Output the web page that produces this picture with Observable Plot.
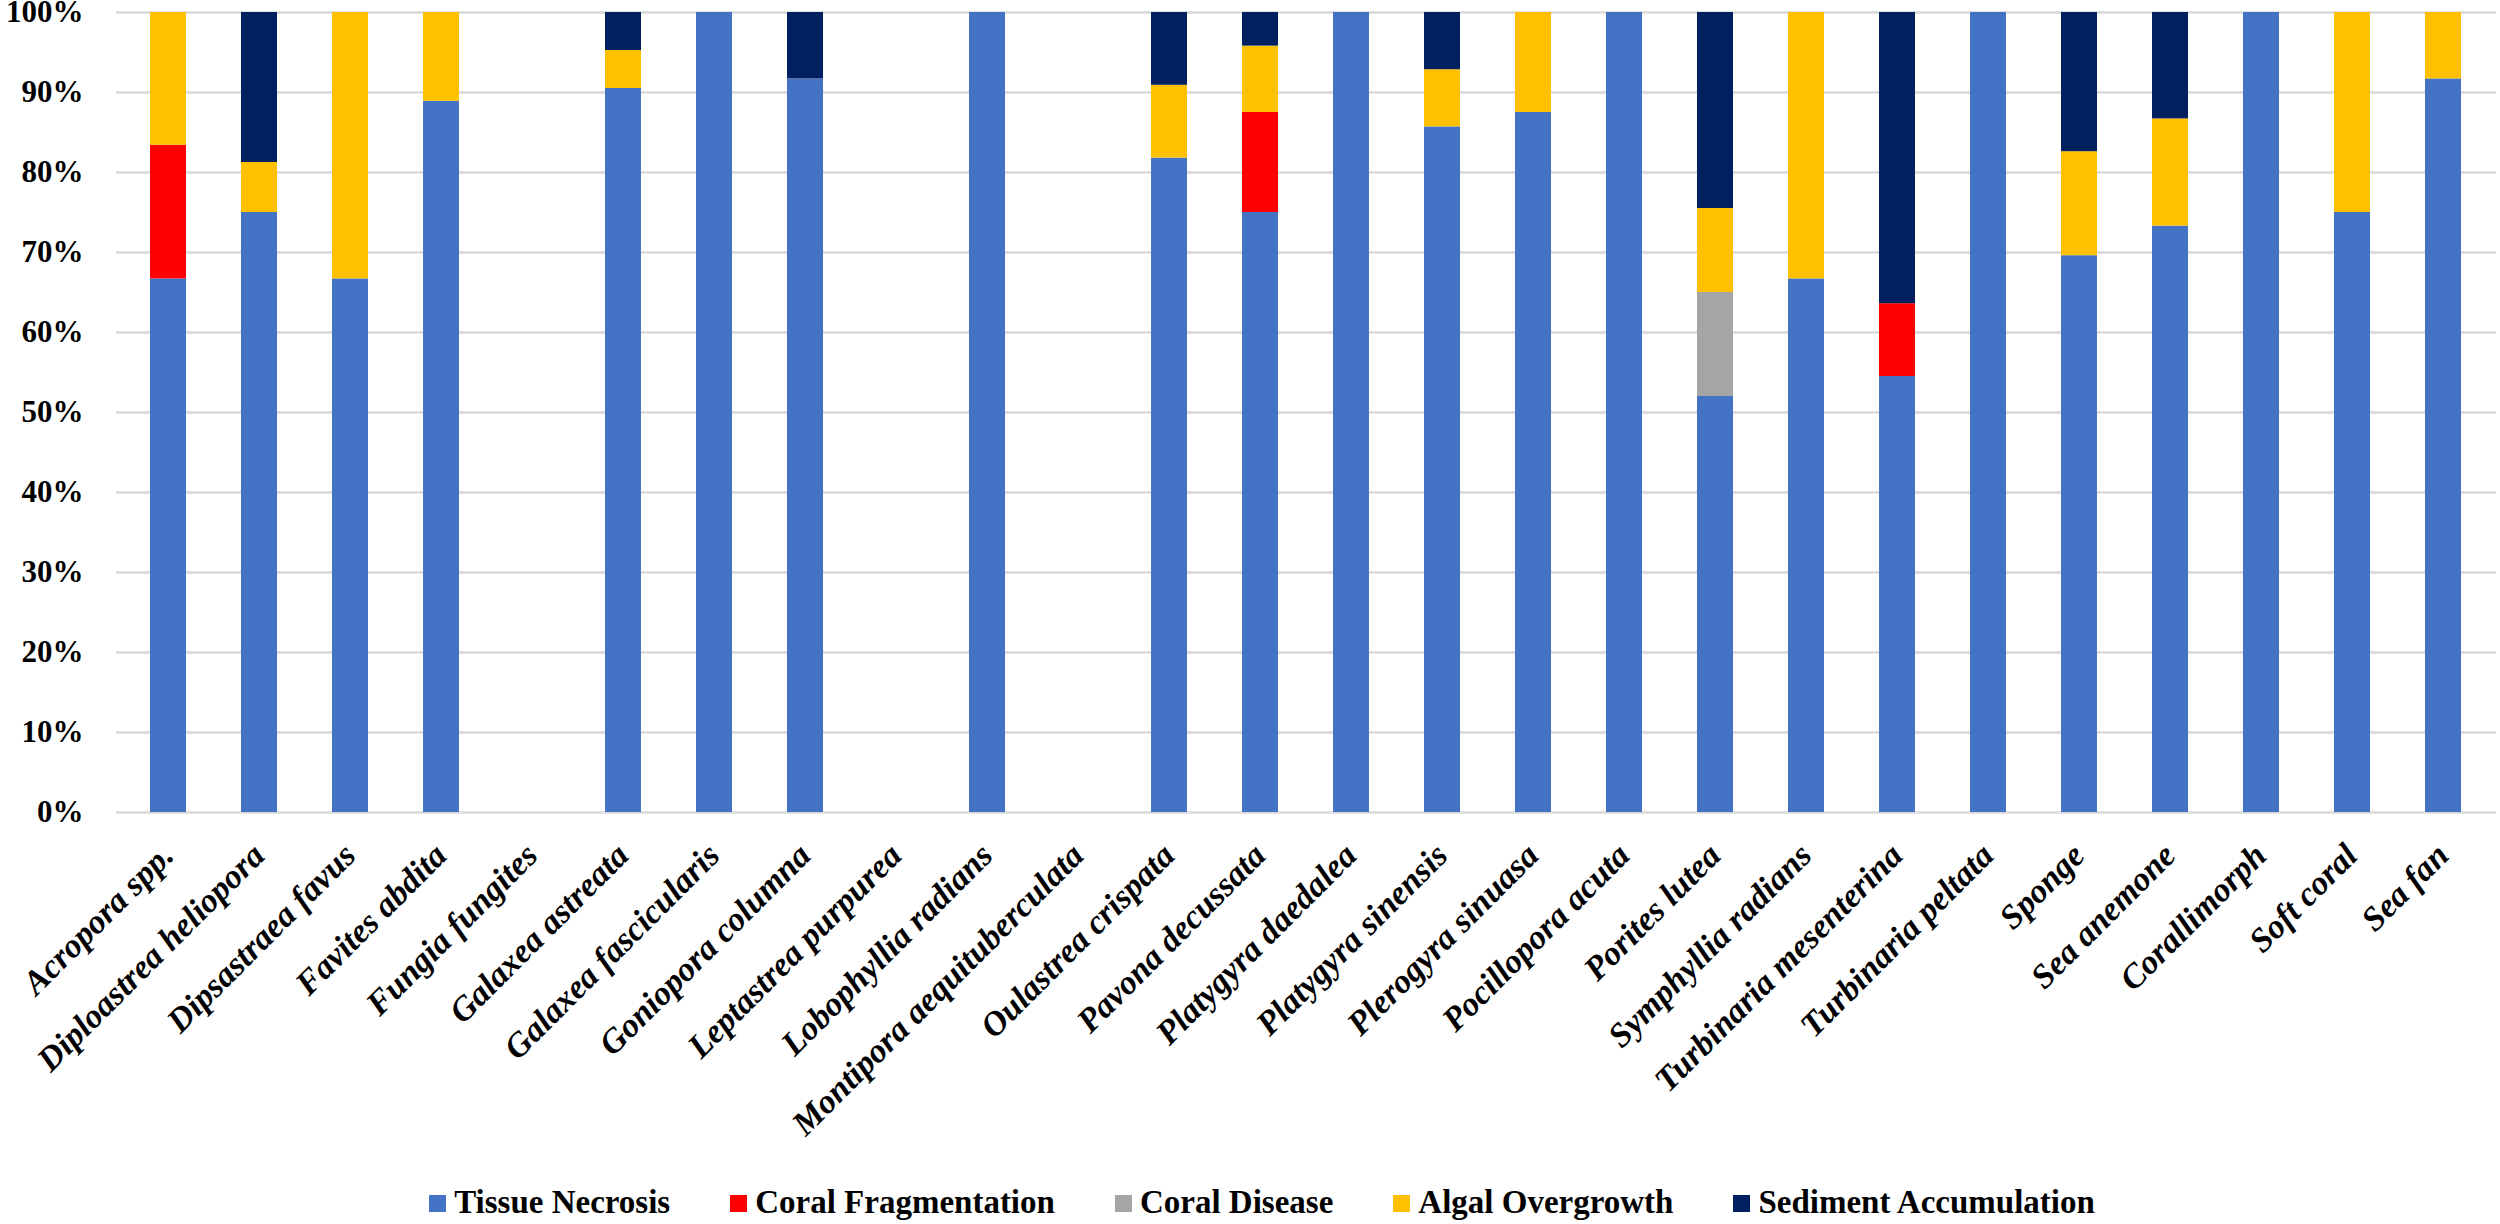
<!DOCTYPE html>
<html>
<head>
<meta charset="utf-8">
<script src="https://cdn.jsdelivr.net/npm/d3@7"></script>
<script src="https://cdn.jsdelivr.net/npm/@observablehq/plot@0.6"></script>
<style>
  html, body { margin: 0; padding: 0; background: #fff; }
  #wrap { position: relative; width: 2500px; height: 1224px; overflow: hidden; }
  #legend { position: absolute; top: 1186px; left: 0; width: 2500px; display: flex; justify-content: center;
    font-family: "Liberation Serif", "Times New Roman", serif; font-weight: bold; font-size: 33px; line-height: 33px; color: #000; padding-left: 24px; box-sizing: border-box; }
  .item { display: flex; align-items: center; margin-right: 60px; }
  .item:last-child { margin-right: 0; }
  .sw { width: 17px; height: 17px; margin-right: 8px; margin-top: 2px; }
</style>
</head>
<body>
<div id="wrap"><div id="chart"></div><div id="legend"></div></div>
<script>
const categories = [
  "Acropora spp.", "Diploastrea heliopora", "Dipsastraea favus", "Favites abdita", "Fungia fungites",
  "Galaxea astreata", "Galaxea fascicularis", "Goniopora columna", "Leptastrea purpurea", "Lobophyllia radians",
  "Montipora aequituberculata", "Oulastrea crispata", "Pavona decussata", "Platygyra daedalea", "Platygyra sinensis",
  "Plerogyra sinuasa", "Pocillopora acuta", "Porites lutea", "Symphyllia radians", "Turbinaria mesenterina",
  "Turbinaria peltata", "Sponge", "Sea anemone", "Corallimorph", "Soft coral", "Sea fan"
];
const seriesNames = ["Tissue Necrosis", "Coral Fragmentation", "Coral Disease", "Algal Overgrowth", "Sediment Accumulation"];
const seriesColors = ["#4472C4", "#FF0000", "#A5A5A5", "#FFC000", "#002060"];

const tissueNecrosis     = [66.7, 75, 66.7, 88.9, 0, 90.5, 100, 91.7, 0, 100, 0, 81.8, 75, 100, 85.7, 87.5, 100, 52.0, 66.7, 54.5, 100, 69.6, 73.3, 100, 75, 91.7];
const coralFragmentation = [16.7, 0, 0, 0, 0, 0, 0, 0, 0, 0, 0, 0, 12.5, 0, 0, 0, 0, 0, 0, 9.1, 0, 0, 0, 0, 0, 0];
const coralDisease       = [0, 0, 0, 0, 0, 0, 0, 0, 0, 0, 0, 0, 0, 0, 0, 0, 0, 13.0, 0, 0, 0, 0, 0, 0, 0, 0];
const algalOvergrowth    = [16.6, 6.25, 33.3, 11.1, 0, 4.75, 0, 0, 0, 0, 0, 9.1, 8.3, 0, 7.15, 12.5, 0, 10.5, 33.3, 0, 0, 13.0, 13.4, 0, 25, 8.3];
const sedimentAccum      = [0, 18.75, 0, 0, 0, 4.75, 0, 8.3, 0, 0, 0, 9.1, 4.2, 0, 7.15, 0, 0, 24.5, 0, 36.4, 0, 17.4, 13.3, 0, 0, 0];
const yTicks = [0, 10, 20, 30, 40, 50, 60, 70, 80, 90, 100];

const seriesValues = [tissueNecrosis, coralFragmentation, coralDisease, algalOvergrowth, sedimentAccum];
const rows = [];
seriesNames.forEach((s, si) => {
  categories.forEach((c, ci) => {
    const v = seriesValues[si][ci];
    if (v > 0) rows.push({category: c, series: s, value: v});
  });
});

const font = '"Liberation Serif", "Times New Roman", serif';
const H = 1180;
const chart = Plot.plot({
  width: 2500,
  height: H,
  marginTop: 12,
  marginBottom: H - 812,
  marginLeft: 116,
  marginRight: 4,
  style: {fontFamily: font, background: "#fff", color: "#000", overflow: "visible"},
  x: {domain: categories, paddingInner: 0.6, paddingOuter: 0.3, axis: null},
  y: {domain: [0, 100], axis: null},
  color: {domain: seriesNames, range: seriesColors},
  marks: [
    Plot.ruleY(yTicks, {stroke: "#D9D9D9", strokeWidth: 2.5}),
    Plot.barY(rows, {x: "category", y: "value", fill: "series", order: seriesNames}),
    Plot.axisY({ticks: yTicks, tickSize: 0, tickPadding: 33, tickFormat: d => d + "%",
      fontSize: 31, fontWeight: "bold", fontFamily: font, label: null}),
    Plot.text(categories, {x: d => d, frameAnchor: "bottom", rotate: -45, textAnchor: "end", lineAnchor: "bottom",
      dx: 7, dy: 45, fontSize: 34, fontWeight: "bold", fontStyle: "italic", fontFamily: font, fill: "#000"})
  ]
});
document.getElementById("chart").appendChild(chart);

const legend = document.getElementById("legend");
seriesNames.forEach((s, i) => {
  const it = document.createElement("div");
  it.className = "item";
  const sw = document.createElement("div");
  sw.className = "sw";
  sw.style.background = seriesColors[i];
  const tx = document.createElement("span");
  tx.textContent = s;
  it.appendChild(sw);
  it.appendChild(tx);
  legend.appendChild(it);
});
</script>
</body>
</html>
